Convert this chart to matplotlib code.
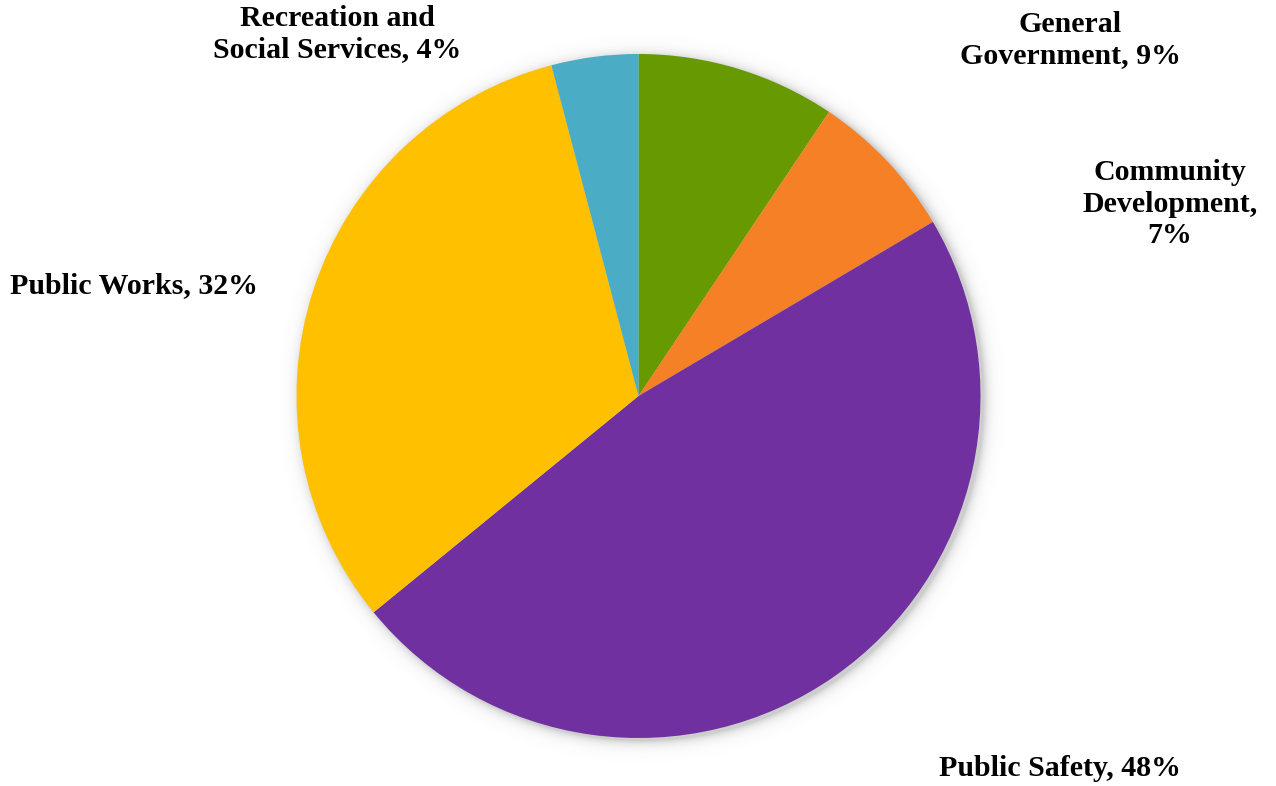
import numpy as np
import matplotlib
matplotlib.use("Agg")
import matplotlib.pyplot as plt

# ---- data ----
categories = ["General\nGovernment", "Community\nDevelopment,\n", "Public Safety",
              "Public Works", "Recreation and\nSocial Services"]
values = [9.4, 7.1, 47.6, 31.8, 4.1]
colors = ["#679900", "#F58025", "#7030A0", "#FFC000", "#4BACC6"]

# label anchor positions in pixel coords (x, y from top)
label_pos = [(1070, 40), (1170, 204), (1060, 768), (134, 286), (337, 34)]

W, H = 1276, 786
fig = plt.figure(figsize=(W / 100, H / 100), dpi=100)
ax = fig.add_axes([0, 0, 1, 1])
ax.set_xlim(0, W)
ax.set_ylim(0, H)
ax.axis("off")

cx, cy, r = 638.5, H - 396, 342

# soft shadow
yy, xx = np.mgrid[0:H, 0:W]
d = np.sqrt((xx - (cx + 3)) ** 2 + (yy - (cy - 3)) ** 2) - r
alpha = np.clip(np.exp(-np.clip(d, 0, None) / 5.0), 0, 1) * 0.35
alpha[d < 0] = 0.35
img = np.zeros((H, W, 4))
img[..., :3] = 0.45
img[..., 3] = alpha
ax.imshow(img, extent=(0, W, 0, H), origin="lower", zorder=0)

ax.pie(values, colors=colors, startangle=90, counterclock=False,
       center=(cx, cy), radius=r, frame=True,
       wedgeprops=dict(linewidth=0, zorder=1))
ax.set_xlim(0, W)
ax.set_ylim(0, H)
ax.axis("off")

for cat, v, (px, py) in zip(categories, values, label_pos):
    if cat.endswith("\n"):
        txt = f"{cat}{v:.0f}%"
    else:
        txt = f"{cat}, {v:.0f}%"
    ax.text(px, H - py, txt, ha="center", va="center", fontsize=21.5,
            fontweight="bold", family="Liberation Serif", linespacing=1.2,
            color="#000000", zorder=3)

fig.savefig("out.png", dpi=100, facecolor="white")
